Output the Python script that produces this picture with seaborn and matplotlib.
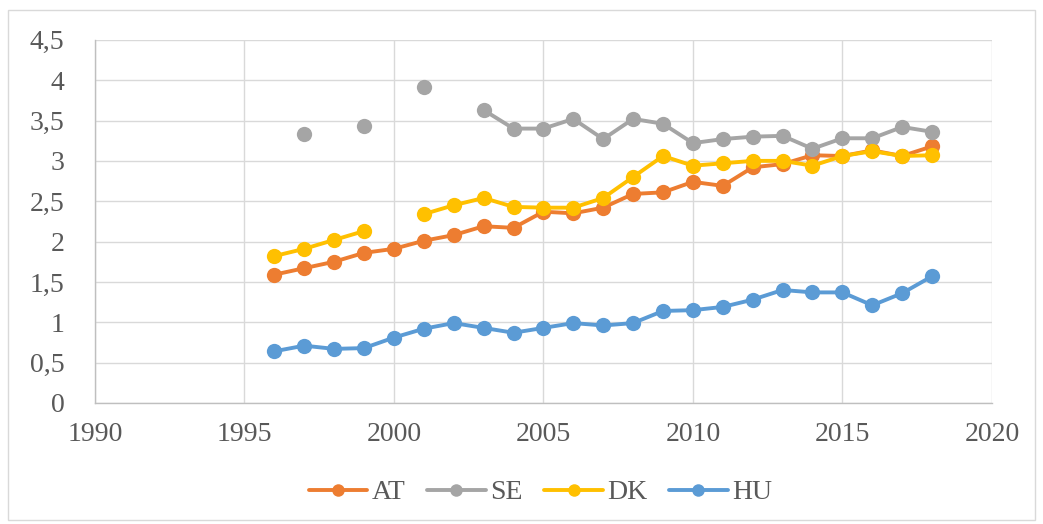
import numpy as np
import pandas as pd
import seaborn as sns
import matplotlib.pyplot as plt
from matplotlib.ticker import FuncFormatter, MultipleLocator
from matplotlib.patches import Rectangle

# values (NaN = no data)
years = list(range(1996, 2019))
at = [1.59, 1.67, 1.75, 1.86, 1.91, 2.01, 2.08, 2.19, 2.17, 2.37, 2.35, 2.42,
      2.59, 2.61, 2.74, 2.69, 2.92, 2.96, 3.07, 3.06, 3.13, 3.06, 3.18]
se = [np.nan, 3.33, np.nan, 3.43, np.nan, 3.92, np.nan, 3.63, 3.40, 3.40, 3.52, 3.27,
      3.52, 3.46, 3.22, 3.27, 3.30, 3.31, 3.15, 3.28, 3.28, 3.42, 3.36]
dk = [1.82, 1.91, 2.02, 2.13, np.nan, 2.34, 2.45, 2.54, 2.43, 2.42, 2.42, 2.54,
      2.80, 3.06, 2.94, 2.97, 3.00, 3.00, 2.94, 3.06, 3.12, 3.06, 3.07]
hu = [0.64, 0.71, 0.67, 0.68, 0.81, 0.92, 0.99, 0.93, 0.87, 0.93, 0.99, 0.96,
      0.99, 1.14, 1.15, 1.19, 1.28, 1.40, 1.37, 1.37, 1.21, 1.36, 1.57]
countries = ['AT', 'SE', 'DK', 'HU']
colors = ['#ED7D31', '#A5A5A5', '#FFC000', '#5B9BD5']

# long format, with a segment id so gaps in the data break the lines
frames = []
for name, vals in zip(countries, [at, se, dk, hu]):
    d = pd.DataFrame({'year': years, 'value': vals, 'country': name})
    d['seg'] = name + d['value'].isna().cumsum().astype(str)
    frames.append(d.dropna())
df = pd.concat(frames, ignore_index=True)

sns.set_style('white')
plt.rcParams['font.family'] = ['Liberation Serif', 'DejaVu Serif']

fig = plt.figure(figsize=(10.43, 5.24), dpi=100)
ax = fig.add_axes([0.091, 0.231, 0.860, 0.693])

sns.lineplot(data=df, x='year', y='value', hue='country', units='seg',
             estimator=None, palette=dict(zip(countries, colors)),
             hue_order=countries, marker='o', markersize=11,
             markeredgewidth=0, linewidth=2.8, ax=ax, zorder=3)

ax.set_xlim(1990, 2020)
ax.set_ylim(0, 4.5)
ax.xaxis.set_major_locator(MultipleLocator(5))
ax.yaxis.set_major_locator(MultipleLocator(0.5))
ax.yaxis.set_major_formatter(FuncFormatter(lambda v, p: f'{v:g}'.replace('.', ',')))
ax.grid(True, color='#D9D9D9', linewidth=1)
ax.set_axisbelow(True)
for s in ['top', 'right']:
    ax.spines[s].set_visible(False)
for s in ['left', 'bottom']:
    ax.spines[s].set_color('#BFBFBF')
    ax.spines[s].set_linewidth(1)
ax.tick_params(axis='both', labelsize=20, colors='#595959', length=0)
ax.tick_params(axis='y', pad=22)
ax.tick_params(axis='x', pad=14)
ax.set_xlabel('')
ax.set_ylabel('')

handles, labels = ax.get_legend_handles_labels()
for h in handles:
    h.set_markersize(9)
ax.legend(handles, labels, loc='center', bbox_to_anchor=(0.518, 0.06),
          bbox_transform=fig.transFigure, ncol=4, frameon=False,
          fontsize=20, labelcolor='#595959', handlelength=2.1,
          handletextpad=0.15, columnspacing=0.8)

# thin frame round the whole chart, as in the spreadsheet export
fig.patches.append(Rectangle((0.008, 0.008), 0.984, 0.972, transform=fig.transFigure,
                             fill=False, edgecolor='#D9D9D9', linewidth=1))

fig.savefig('out.png', dpi=100)
